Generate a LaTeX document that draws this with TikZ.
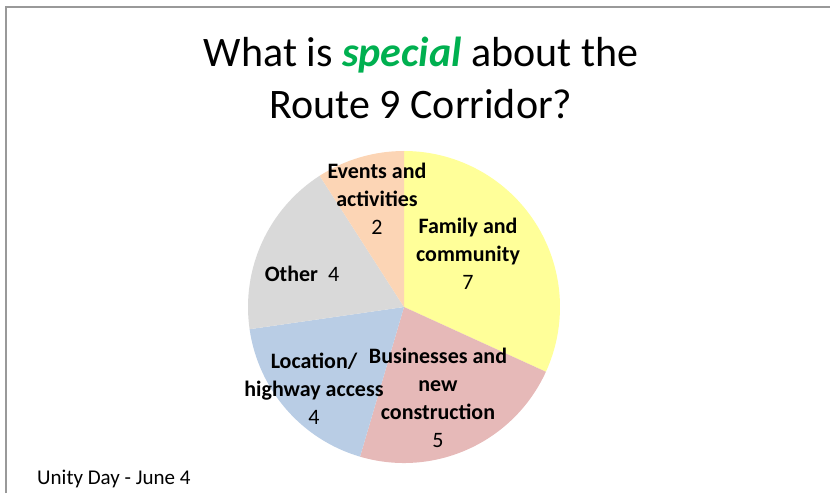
\documentclass[tikz,border=0pt]{standalone}
\usepackage{fontspec}
\setmainfont{Carlito}
\usetikzlibrary{positioning}
\definecolor{famyellow}{RGB}{255,255,153}
\definecolor{buspink}{RGB}{230,185,184}
\definecolor{locblue}{RGB}{185,205,229}
\definecolor{othgray}{RGB}{217,217,217}
\definecolor{evtpeach}{RGB}{252,213,181}
\definecolor{specgreen}{RGB}{0,176,80}
\tikzset{
 slicelabel/.style={align=center, inner sep=0pt, font=\fontsize{22}{28}\selectfont\bfseries},
}
\newcommand{\num}[1]{\mdseries #1}

\begin{document}
\begin{tikzpicture}[x=1pt,y=1pt]
\useasboundingbox (0,0) rectangle (830,493);
%\fill[white] (0,0) rectangle (830,493);
\draw[color=black!40, line width=1.5pt] (6,0) |- (830,486);

\path (421,415) node[name=title, align=center, font=\fontsize{42}{52}\selectfont]
 {What is \textcolor{specgreen}{\bfseries\itshape special} about the\\ Route 9 Corridor?};

% pie, 22 answers in all
\coordinate (c) at (404,186);
\foreach \from/\to/\col in {90/-24.545/famyellow, -24.545/-106.364/buspink,
 -106.364/-171.818/locblue, -171.818/-237.273/othgray, -237.273/-270/evtpeach}
 \fill[\col] (c) -- ++(\from:156) arc[start angle=\from, end angle=\to, radius=156pt] -- cycle;

\path (377,294) node[name=events, slicelabel] {Events and\\ activities\\ \num{2}};
\path (468,239) node[name=family, slicelabel] {Family and\\ community\\ \num{7}};
\path (302,219) node[name=other, slicelabel] {Other\ \ \num{4}};
\path (314,104) node[name=location, slicelabel] {Location/\\ highway access\\ \num{4}};
\path (438,95) node[name=business, slicelabel] {Businesses and\\ new\\ construction\\ \num{5}};

\path (37,9) node[name=footer, anchor=base west, inner sep=0pt, font=\fontsize{21}{24}\selectfont] {Unity Day - June 4};
\end{tikzpicture}
\end{document}
